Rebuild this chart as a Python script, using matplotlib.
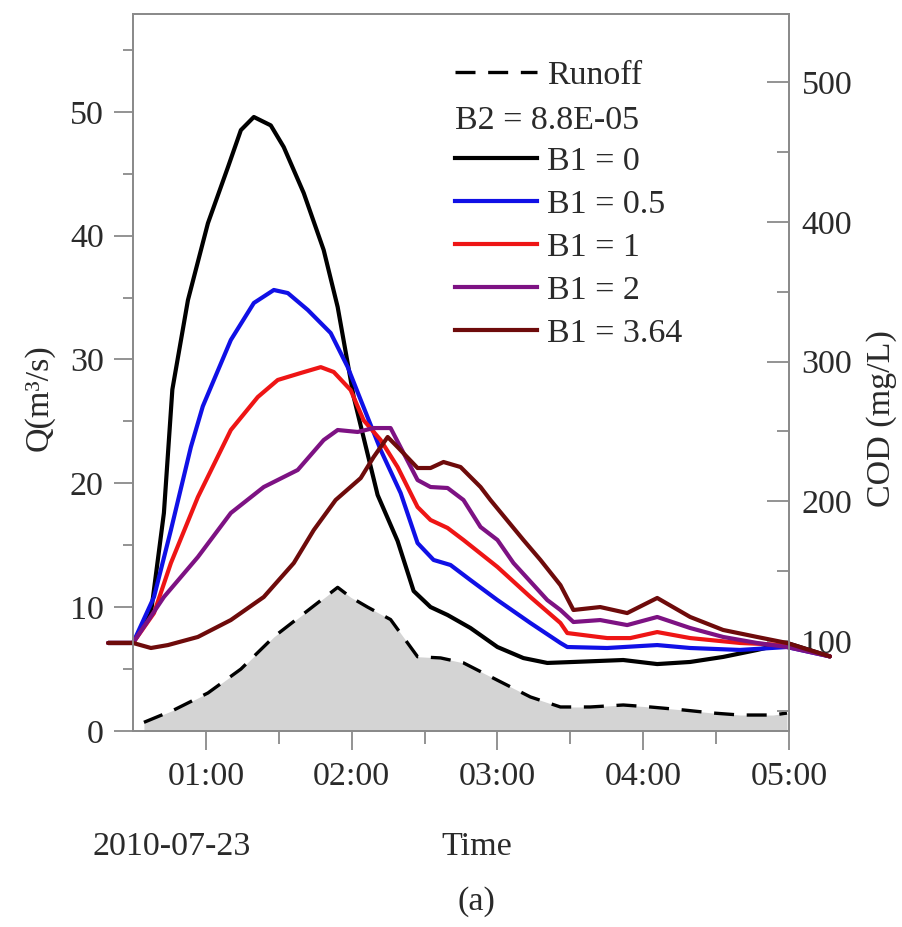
import matplotlib
matplotlib.use('Agg')
import matplotlib.pyplot as plt
from matplotlib.lines import Line2D
from matplotlib.ticker import FixedLocator, FuncFormatter

plt.rcParams['font.family'] = ['Liberation Serif', 'DejaVu Serif']

# ---------------- data (time in hours after 00:00, 2010-07-23) ----------------
t_run = [0.575, 0.781, 1.014, 1.240, 1.466, 1.685, 1.904, 1.993, 2.110, 2.267,
         2.452, 2.610, 2.767, 3.0, 3.226, 3.432, 3.637, 3.863, 4.048, 4.274,
         4.479, 4.664, 4.890, 4.986]
q_run = [0.7, 1.7, 3.07, 5.0, 7.6, 9.6, 11.6, 10.8, 10.0, 9.0,
         6.0, 5.9, 5.5, 4.1, 2.75, 1.94, 1.94, 2.1, 1.94, 1.70,
         1.45, 1.29, 1.29, 1.45]

t_b0 = [0.33, 0.5, 0.623, 0.712, 0.770, 0.877, 1.014, 1.151, 1.240, 1.329, 1.445,
        1.534, 1.671, 1.808, 1.904, 2.014, 2.178, 2.315, 2.425, 2.541, 2.658,
        2.815, 3.0, 3.178, 3.342, 3.52, 3.863, 4.096, 4.322, 4.548, 4.781, 4.986, 5.28]
cod_b0 = [98.6, 98.6, 120, 191.6, 280, 344, 399, 439, 465.6, 475, 469,
          453.5, 420.6, 379.8, 339, 274.6, 204.5, 171.6, 135.8, 124.3, 118.6,
          109.3, 95.7, 87.8, 84.3, 85, 86.4, 83.5, 85, 88.6, 93.6, 98.6, 89]

t_b05 = [0.33, 0.5, 0.644, 0.760, 0.897, 0.979, 1.055, 1.171, 1.329, 1.466, 1.562,
         1.699, 1.856, 1.973, 2.062, 2.199, 2.336, 2.452, 2.562, 2.678, 2.815,
         3.0, 3.226, 3.432, 3.479, 3.753, 4.096, 4.322, 4.664, 4.986, 5.28]
cod_b05 = [98.6, 98.6, 131.5, 179.4, 238.8, 268, 286.8, 315.4, 341.9, 351.2, 349,
           336.9, 320.4, 296, 272.5, 236.7, 205.9, 170.1, 158, 154.4, 143.6,
           129.3, 112.9, 98.6, 95.7, 95, 97.1, 95, 93.6, 95.7, 89]

t_b1 = [0.33, 0.5, 0.644, 0.760, 0.945, 1.171, 1.356, 1.493, 1.651, 1.788, 1.877,
        1.993, 2.082, 2.199, 2.315, 2.452, 2.541, 2.658, 2.767, 3.0, 3.226,
        3.432, 3.479, 3.753, 3.911, 4.096, 4.322, 4.664, 4.986, 5.28]
cod_b1 = [98.6, 98.6, 120, 155.8, 203, 251, 274.6, 286.8, 291.8, 296, 292.5,
          279.6, 258, 243.8, 224.5, 195.9, 186.6, 180.9, 172.3, 153, 131.5,
          112.9, 105.7, 102.1, 102.1, 106.4, 102.1, 98.6, 97.1, 89]

t_b2 = [0.33, 0.5, 0.712, 0.945, 1.171, 1.397, 1.630, 1.808, 1.904, 2.041, 2.151,
        2.267, 2.356, 2.452, 2.541, 2.658, 2.767, 2.884, 3.0, 3.110, 3.342,
        3.432, 3.521, 3.705, 3.890, 4.096, 4.322, 4.548, 4.781, 4.986, 5.28]
cod_b2 = [98.6, 98.6, 131.5, 160.1, 191.6, 210.2, 222.4, 243.8, 251, 249.6, 252.4,
          252.4, 234.5, 215.2, 210.2, 209.5, 200.9, 181.6, 172.3, 155.8, 129.3,
          122.2, 113.6, 115, 111.4, 117.2, 109.3, 102.9, 98.6, 95.7, 89]

t_b364 = [0.33, 0.5, 0.623, 0.740, 0.945, 1.171, 1.397, 1.603, 1.740, 1.890, 2.062,
          2.151, 2.247, 2.315, 2.452, 2.541, 2.630, 2.747, 2.884, 2.952, 3.178,
          3.295, 3.432, 3.521, 3.705, 3.890, 4.096, 4.322, 4.548, 4.781, 4.986, 5.28]
cod_b364 = [98.6, 98.6, 95, 97.1, 102.9, 115, 131.5, 155.8, 179.4, 200.9, 216.6,
            231.7, 246, 238.8, 223.8, 223.8, 228.1, 224.5, 210.2, 200.9, 172.3,
            158, 140, 122.2, 124.3, 120, 130.8, 117.2, 107.9, 102.9, 98.6, 89]

series_labels = ['B1 = 0', 'B1 = 0.5', 'B1 = 1', 'B1 = 2', 'B1 = 3.64']
series_colors = ['#000000', '#1010e6', '#ee1515', '#7d1283', '#6e0b0b']
x_ticks = [1, 2, 3, 4, 5]
x_tick_labels = ['01:00', '02:00', '03:00', '04:00', '05:00']

# ---------------- figure ----------------
W, H = 903, 927
fig = plt.figure(figsize=(W / 100, H / 100), dpi=100)
L, R, T, B = 133, 789, 14, 731
ax = fig.add_axes([L / W, 1 - B / H, (R - L) / W, (B - T) / H])
ax2 = ax.twinx()

FS = 24.5
spine_c = '#8a8a8a'
txt_c = '#2a2a2a'
LW = 3.0

ax.fill_between(t_run, q_run, 0, color='#d4d4d4', lw=0, zorder=1)
ax.plot(t_run, q_run, color='k', lw=2.4, dashes=(6, 3.8), zorder=2)

series_t = [t_b0, t_b05, t_b1, t_b2, t_b364]
series_v = [cod_b0, cod_b05, cod_b1, cod_b2, cod_b364]
for tt, vv, c in zip(series_t, series_v, series_colors):
    ax2.plot(tt, vv, color=c, lw=LW, clip_on=False, solid_joinstyle='round',
             solid_capstyle='round')

ax.set_xlim(0.5, 5.0)
ax.set_ylim(0, 57.9)
ax2.set_ylim(35.6, 548.7)

ax.xaxis.set_major_locator(FixedLocator(x_ticks))
ax.xaxis.set_major_formatter(FuncFormatter(lambda v, p: x_tick_labels[x_ticks.index(int(round(v)))] if int(round(v)) in x_ticks else ''))
ax.xaxis.set_minor_locator(FixedLocator([1.5, 2.5, 3.5, 4.5]))
ax.yaxis.set_major_locator(FixedLocator([0, 10, 20, 30, 40, 50]))
ax.yaxis.set_minor_locator(FixedLocator([5, 15, 25, 35, 45, 55]))
ax2.yaxis.set_major_locator(FixedLocator([100, 200, 300, 400, 500]))
ax2.yaxis.set_minor_locator(FixedLocator([50, 150, 250, 350, 450]))

for a in (ax, ax2):
    for s in a.spines.values():
        s.set_color(spine_c)
        s.set_linewidth(1.3)

ax.tick_params(axis='y', which='major', direction='out', length=14, width=1.3,
               color=spine_c, labelsize=FS, labelcolor=txt_c, pad=7)
ax.tick_params(axis='y', which='minor', direction='out', length=7, width=1.3, color=spine_c)
ax.tick_params(axis='x', which='major', direction='out', length=14, width=1.3,
               color=spine_c, labelsize=FS, labelcolor=txt_c, pad=8)
ax.tick_params(axis='x', which='minor', direction='out', length=9, width=1.3, color=spine_c)
ax2.tick_params(axis='y', which='major', direction='in', length=16, width=1.3,
                color=spine_c, labelsize=FS, labelcolor=txt_c, pad=9)
ax2.tick_params(axis='y', which='minor', direction='in', length=8.5, width=1.3, color=spine_c)

# axis titles
fig.text(39 / W, 1 - 398 / H, 'Q(m³/s)', rotation=90, ha='center', va='center',
         fontsize=FS, color=txt_c)
fig.text(882 / W, 1 - 419 / H, 'COD (mg/L)', rotation=90, ha='center', va='center',
         fontsize=FS, color=txt_c)
fig.text(172 / W, 1 - 855 / H, '2010-07-23', ha='center', va='baseline', fontsize=FS, color=txt_c)
fig.text(477 / W, 1 - 855 / H, 'Time', ha='center', va='baseline', fontsize=FS, color=txt_c)
fig.text(476 / W, 1 - 910 / H, '(a)', ha='center', va='baseline', fontsize=FS, color=txt_c)

# legend
handles = [Line2D([], [], color='k', lw=2.4, dashes=(6, 3.8)),
           Line2D([], [], color='none')]
labels = ['Runoff', ' ']
for c, lab in zip(series_colors, series_labels):
    handles.append(Line2D([], [], color=c, lw=LW))
    labels.append(lab)
leg = fig.legend(handles, labels, loc='upper left', bbox_to_anchor=(455 / W, 1 - 60 / H),
                 bbox_transform=fig.transFigure, frameon=False, fontsize=FS,
                 handlelength=2.4, handletextpad=0.3, labelspacing=0.36,
                 borderpad=0, borderaxespad=0)
for t in leg.get_texts():
    t.set_color(txt_c)
fig.text(455 / W, 1 - 129 / H, 'B2 = 8.8E-05', ha='left', va='baseline', fontsize=FS, color=txt_c)

fig.savefig('out.png', dpi=100)
